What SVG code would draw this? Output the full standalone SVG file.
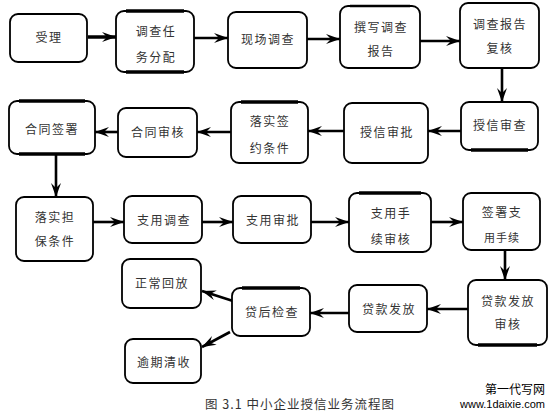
<svg xmlns="http://www.w3.org/2000/svg" width="555" height="417" viewBox="0 0 555 417">
<style>
.box{fill:#fff;stroke:#000;stroke-width:1.8}
.thk{stroke:#000;stroke-width:3.5;fill:none}
.t{font-family:"Noto Sans CJK SC","Noto Sans CJK JP",sans-serif;font-size:12px;fill:#333;text-anchor:middle;letter-spacing:1.5px}
.s{font-size:11px;letter-spacing:1px}
.e{stroke:#000;stroke-width:2.6;fill:none;marker-end:url(#ah)}
.cap{font-family:"Noto Sans CJK SC",sans-serif;font-size:12.5px;fill:#333;text-anchor:middle;letter-spacing:1px}
.wm{font-family:"Liberation Sans","Noto Sans CJK SC",sans-serif;font-size:12px;fill:#000;text-anchor:end}
</style>
<defs>
<marker id="ah" markerUnits="userSpaceOnUse" markerWidth="16" markerHeight="12" refX="14" refY="6" orient="auto">
<path d="M0,1 L14,6 L0,11 L5,6 Z" fill="#000"/>
</marker>
</defs>
<rect width="555" height="417" fill="#fff"/>
<g id="connectors">
<line class="e" x1="88" y1="37" x2="116" y2="37" style="stroke-width:3.5"/>
<line class="e" x1="194" y1="38" x2="228" y2="38"/>
<line class="e" x1="307" y1="39" x2="340" y2="39"/>
<line class="e" x1="420" y1="41" x2="460" y2="41"/>
<line class="e" x1="502" y1="68" x2="502" y2="102"/>
<line class="e" x1="461" y1="131" x2="428" y2="131"/>
<line class="e" x1="344" y1="131" x2="308" y2="131"/>
<line class="e" x1="231" y1="132" x2="197" y2="132"/>
<line class="e" x1="118" y1="132" x2="95" y2="132"/>
<line class="e" x1="56" y1="154" x2="56" y2="197"/>
<line class="e" x1="93" y1="222" x2="124" y2="222"/>
<line class="e" x1="202" y1="222" x2="233" y2="222"/>
<line class="e" x1="311" y1="222" x2="349" y2="222"/>
<line class="e" x1="431" y1="222" x2="463" y2="222"/>
<line class="e" x1="505" y1="250" x2="505" y2="280"/>
<line class="e" x1="468" y1="309" x2="427" y2="309"/>
<line class="e" x1="349" y1="313" x2="310" y2="313"/>
<line class="e" x1="233" y1="301" x2="202" y2="291"/>
<line class="e" x1="230" y1="332" x2="202" y2="347"/>
</g>
<g id="n1"><rect class="box" x="10" y="14" width="77" height="48" rx="8"/><text class="t" x="49" y="42">受理</text></g>
<g id="n2"><rect class="box" x="116" y="11" width="78" height="61" rx="8"/><line class="thk" x1="126" y1="11" x2="184" y2="11"/><line class="thk" x1="126" y1="72" x2="184" y2="72"/><text class="t" x="156" y="36">调查任</text><text class="t" x="156" y="62">务分配</text></g>
<g id="n3"><rect class="box" x="228" y="12" width="79" height="56" rx="8"/><text class="t" x="268" y="44">现场调查</text></g>
<g id="n4"><rect class="box" x="340" y="6" width="80" height="62" rx="8"/><line class="thk" x1="350" y1="6" x2="410" y2="6" style="stroke-width:2.5"/><text class="t" x="381" y="32">撰写调查</text><text class="t" x="381" y="56">报告</text></g>
<g id="n5"><rect class="box" x="460" y="3" width="79" height="65" rx="8"/><text class="t" x="500" y="29">调查报告</text><text class="t" x="500" y="53">复核</text></g>
<g id="n6"><rect class="box" x="461" y="102" width="77" height="48" rx="8"/><line class="thk" x1="471" y1="150" x2="528" y2="150"/><text class="t" x="500" y="130">授信审查</text></g>
<g id="n7"><rect class="box" x="344" y="103" width="84" height="60" rx="8"/><text class="t" x="387" y="137">授信审批</text></g>
<g id="n8"><rect class="box" x="231" y="102" width="77" height="61" rx="8"/><line class="thk" x1="241" y1="102" x2="298" y2="102"/><text class="t" x="270" y="126">落实签</text><text class="t" x="270" y="153">约条件</text></g>
<g id="n9"><rect class="box" x="118" y="108" width="79" height="49" rx="8"/><text class="t" x="158" y="137">合同审核</text></g>
<g id="n10"><rect class="box" x="9" y="101" width="86" height="53" rx="8"/><line class="thk" x1="19" y1="101" x2="85" y2="101"/><line class="thk" x1="19" y1="154" x2="85" y2="154"/><text class="t" x="52" y="134">合同签署</text></g>
<g id="n11"><rect class="box" x="16" y="197" width="77" height="64" rx="8"/><text class="t" x="55" y="222">落实担</text><text class="t" x="55" y="246">保条件</text></g>
<g id="n12"><rect class="box" x="124" y="196" width="78" height="47" rx="8"/><text class="t" x="164" y="225">支用调查</text></g>
<g id="n13"><rect class="box" x="233" y="196" width="78" height="47" rx="8"/><text class="t" x="273" y="225">支用审批</text></g>
<g id="n14"><rect class="box" x="349" y="193" width="82" height="59" rx="8"/><line class="thk" x1="359" y1="193" x2="421" y2="193"/><text class="t" x="391" y="218">支用手</text><text class="t" x="391" y="244">续审核</text></g>
<g id="n15"><rect class="box" x="463" y="193" width="77" height="57" rx="8"/><text class="t" x="502" y="217">签署支</text><text class="t s" x="502" y="242">用手续</text></g>
<g id="n16"><rect class="box" x="468" y="280" width="79" height="65" rx="8"/><line class="thk" x1="478" y1="345" x2="537" y2="345"/><text class="t" x="508" y="306">贷款发放</text><text class="t" x="508" y="329">审核</text></g>
<g id="n17"><rect class="box" x="349" y="285" width="78" height="47" rx="8"/><text class="t" x="389" y="314">贷款发放</text></g>
<g id="n18"><rect class="box" x="232" y="288" width="78" height="48" rx="8"/><line class="thk" x1="242" y1="288" x2="300" y2="288"/><text class="t" x="272" y="317">贷后检查</text></g>
<g id="n19"><rect class="box" x="122" y="259" width="79" height="49" rx="8"/><text class="t" x="162" y="288">正常回放</text></g>
<g id="n20"><rect class="box" x="125" y="339" width="76" height="44" rx="8"/><text class="t" x="164" y="367">逾期清收</text></g>
<text class="cap" x="300" y="409">图 3.1 中小企业授信业务流程图</text>
<text class="wm" x="545" y="394" style="font-family:'Noto Sans CJK SC',sans-serif;font-size:12px">第一代写网</text>
<text class="wm" x="545" y="408" style="font-size:11px">www.1daixie.com</text>
</svg>
